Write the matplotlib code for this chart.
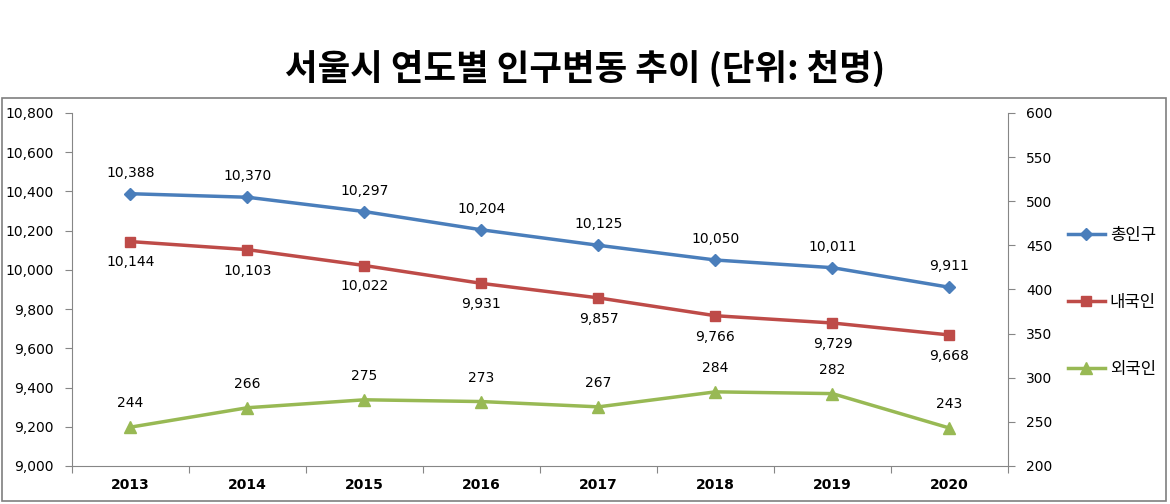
import numpy as np
import matplotlib.pyplot as plt
from matplotlib.patches import Rectangle

plt.rcParams['font.family'] = ['Noto Sans CJK KR', 'DejaVu Sans']

# data (unit: thousand persons)
years = ['2013', '2014', '2015', '2016', '2017', '2018', '2019', '2020']
total = [10388, 10370, 10297, 10204, 10125, 10050, 10011, 9911]
korean = [10144, 10103, 10022, 9931, 9857, 9766, 9729, 9668]
foreign = [244, 266, 275, 273, 267, 284, 282, 243]

c_blue = '#4A7EBB'
c_red = '#BE4B48'
c_green = '#98B954'
c_axis = '#868686'

fig = plt.figure(figsize=(11.7, 5.04), dpi=100)
fig.patches.append(Rectangle((0.002, 0.006), 0.995, 0.8, transform=fig.transFigure,
                             fill=False, edgecolor='#7f7f7f', linewidth=1.2))
fig.text(0.5, 0.865, '서울시 연도별 인구변동 추이 (단위: 천명)', ha='center', va='center',
         fontsize=25.5, fontweight='bold')

ax = fig.add_axes([0.0615, 0.0754, 0.8, 0.7006])
ax2 = ax.twinx()
x = np.arange(len(years))

l1, = ax.plot(x, total, color=c_blue, lw=2.5, marker='D', ms=6, label='총인구')
l2, = ax.plot(x, korean, color=c_red, lw=2.5, marker='s', ms=7, label='내국인')
l3, = ax2.plot(x, foreign, color=c_green, lw=2.5, marker='^', ms=8, label='외국인')

for xi, v in zip(x, total):
    ax.annotate(f'{v:,}', (xi, v), xytext=(0, 10), textcoords='offset points',
                ha='center', va='bottom', fontsize=10, family=['DejaVu Sans'])
for xi, v in zip(x, korean):
    ax.annotate(f'{v:,}', (xi, v), xytext=(0, -10), textcoords='offset points',
                ha='center', va='top', fontsize=10, family=['DejaVu Sans'])
for xi, v in zip(x, foreign):
    ax2.annotate(f'{v:,}', (xi, v), xytext=(0, 12), textcoords='offset points',
                 ha='center', va='bottom', fontsize=10, family=['DejaVu Sans'])

ax.set_xlim(-0.5, 7.5)
ax.set_ylim(9000, 10800)
ax.set_yticks(np.arange(9000, 10801, 200))
ax.set_yticklabels([f'{v:,}' for v in range(9000, 10801, 200)], family=['DejaVu Sans'])
ax2.set_ylim(200, 600)
ax2.set_yticks(np.arange(200, 601, 50))
ax2.set_yticklabels([str(v) for v in range(200, 601, 50)], family=['DejaVu Sans'])

ax.set_xticks(np.arange(-0.5, 8.0, 1.0))
ax.set_xticklabels([])
ax.set_xticks(x, minor=True)
ax.set_xticklabels(years, minor=True, family=['DejaVu Sans'], fontweight='bold')
ax.tick_params(axis='x', which='minor', length=0, pad=9, labelsize=10)
ax.tick_params(axis='x', which='major', length=5, color=c_axis)
ax.tick_params(axis='y', length=5, color=c_axis, labelsize=10, pad=8)
ax2.tick_params(axis='y', length=5, color=c_axis, labelsize=10, pad=8)

for a in (ax, ax2):
    a.spines['top'].set_visible(False)
    for s in ('left', 'right', 'bottom'):
        a.spines[s].set_color(c_axis)
ax.spines['right'].set_visible(False)
ax2.spines['left'].set_visible(False)
ax2.spines['bottom'].set_visible(False)

fig.legend(handles=[l1, l2, l3], loc='center left', bbox_to_anchor=(0.9, 0.40),
           frameon=False, fontsize=12, labelspacing=3.0, handlelength=2.2,
           handletextpad=0.3)

plt.savefig('out.png', dpi=100)
